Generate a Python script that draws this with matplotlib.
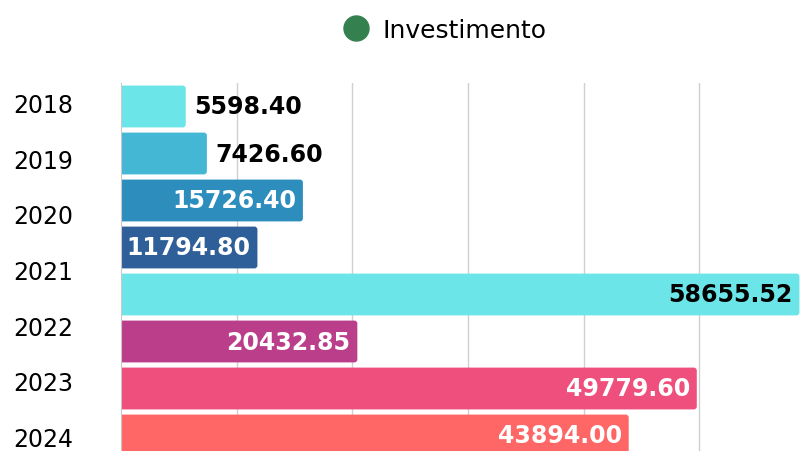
import numpy as np
import matplotlib.pyplot as plt
from matplotlib.lines import Line2D
from matplotlib.patches import FancyBboxPatch
from matplotlib.colors import to_rgb

# dados
anos = ['2018', '2019', '2020', '2021', '2022', '2023', '2024']
valores = [5598.40, 7426.60, 15726.40, 11794.80, 58655.52, 20432.85, 49779.60, 43894.00]
cores = ['#6be5e8', '#44b7d5', '#2d8dbd', '#2e5f99', '#6be5e8', '#bb3e8b', '#ee4f7d', '#ff6666']
serie = 'Investimento'

fig = plt.figure(figsize=(8.1, 4.52), dpi=100)
W, H = 810, 452
# eixo vai um pouco abaixo da figura (grafico cortado em baixo)
ax = fig.add_axes([121 / W, -8 / H, 694 / W, 376 / H])

pos = np.arange(len(valores))
bars = ax.barh(pos, valores, height=0.89, color=cores, zorder=2)
ax.set_xlim(0, 60000)
ax.set_ylim(len(valores) - 0.5, -0.5)

# cantos arredondados: troca cada barra por um FancyBboxPatch
px_x = 60000 / 694
px_y = 8 / 376
for b in bars:
    x0, y0, w, h = b.get_x(), b.get_y(), b.get_width(), b.get_height()
    p = FancyBboxPatch((x0 - 4 * px_x, y0), w + 4 * px_x, h,
                       boxstyle=f'round,pad=0,rounding_size={3 * px_x}',
                       mutation_aspect=px_y / px_x,
                       facecolor=b.get_facecolor(), edgecolor='none', zorder=2)
    ax.add_patch(p)
    b.set_visible(False)

ax.set_xticks(np.arange(10000, 60001, 10000))
ax.xaxis.grid(True, color='#d0d0d0', linewidth=1, zorder=0)
ax.tick_params(axis='x', bottom=False, labelbottom=False)
for s in ['top', 'right', 'bottom']:
    ax.spines[s].set_visible(False)
ax.spines['left'].set_color('#c8c8c8')

# rotulos dos anos (7 rotulos espalhados sobre 8 barras)
ax.set_yticks(np.linspace(-0.08, 7.02, len(anos)))
ax.set_yticklabels(anos, fontsize=17, ha='center')
ax.tick_params(axis='y', length=0, pad=56)

# rotulos de valor
for b, v, c in zip(bars, valores, cores):
    y = b.get_y() + b.get_height() / 2
    r, g, bl = to_rgb(c)
    lum = 0.299 * r + 0.587 * g + 0.114 * bl
    if v < 10000:
        ax.annotate(f'{v:.2f}', (v, y), xytext=(6, 0), textcoords='offset points',
                    ha='left', va='center', fontsize=17, fontweight='bold', color='black')
    else:
        ax.annotate(f'{v:.2f}', (v, y), xytext=(-5, 0), textcoords='offset points',
                    ha='right', va='center', fontsize=17, fontweight='bold',
                    color='black' if lum > 0.7 else 'white')

handle = Line2D([], [], marker='o', linestyle='', markersize=18, color='#35804f')
fig.legend([handle], [serie], loc='center', bbox_to_anchor=(439 / W, 1 - 31 / H),
           frameon=False, fontsize=18, handletextpad=0.05, borderpad=0)

fig.savefig('out.png', dpi=100)
